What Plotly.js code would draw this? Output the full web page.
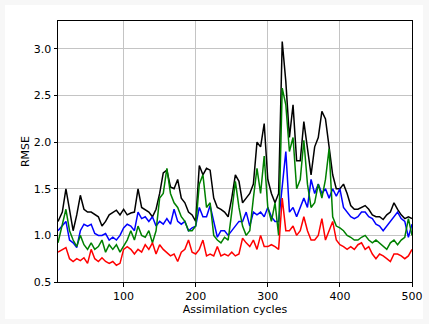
<!DOCTYPE html>
<html><head><meta charset="utf-8">
<script src="https://cdn.plot.ly/plotly-3.0.1.min.js"></script>
<style>
html,body{margin:0;padding:0;background:#f7f7f7;width:429px;height:324px;overflow:hidden;}
#chart{position:absolute;left:5px;top:5px;width:418px;height:314px;}
</style></head>
<body><div id="chart"></div>
<script>
const cycles = [9,15,20,25,30,35,40,45,50,55,60,65,70,75,80,85,90,95,100,105,110,115,120,125,130,135,140,145,150,155,160,165,170,175,180,185,190,195,200,205,210,215,220,225,230,235,240,245,250,255,260,265,270,275,280,285,290,295,300,305,310,315,320,325,330,335,340,345,350,355,360,365,370,375,380,385,390,395,400,405,410,415,420,425,430,435,440,445,450,455,460,465,470,475,480,485,490,495,500];

const blackSeries = [1.15,1.25,1.50,1.25,1.05,1.22,1.43,1.28,1.25,1.25,1.22,1.20,1.10,1.15,1.22,1.25,1.27,1.22,1.28,1.22,1.24,1.25,1.50,1.30,1.27,1.25,1.20,1.28,1.45,1.67,1.70,1.52,1.50,1.60,1.40,1.35,1.25,1.22,1.15,1.75,1.65,1.72,1.70,1.40,1.30,1.28,1.25,1.20,1.40,1.65,1.58,1.35,1.40,1.45,1.55,2.00,1.95,2.20,1.60,1.45,1.35,1.45,3.08,2.65,2.05,2.40,1.80,1.80,2.22,1.95,1.65,1.95,2.05,2.33,2.25,1.95,1.65,1.50,1.50,1.55,1.45,1.32,1.28,1.28,1.30,1.32,1.28,1.22,1.20,1.20,1.17,1.22,1.25,1.35,1.28,1.22,1.18,1.20,1.18];

const greenSeries = [0.92,1.10,1.28,1.05,0.95,0.88,1.00,0.90,0.85,0.92,0.85,0.88,0.95,0.82,0.90,0.85,0.90,0.82,0.88,0.95,1.05,0.95,1.10,1.00,0.98,1.05,0.92,1.05,1.40,1.45,1.72,1.45,1.35,1.30,1.20,1.15,1.05,1.05,1.10,1.55,1.65,1.30,1.35,1.00,0.95,0.92,0.98,0.95,1.25,1.58,1.30,1.10,1.00,1.05,1.40,1.72,1.45,1.85,1.30,1.15,1.35,1.00,2.58,2.40,1.90,2.05,1.50,1.60,2.02,1.55,1.30,1.35,1.55,1.40,1.60,1.93,1.20,1.10,1.08,1.05,1.00,0.98,0.95,0.95,0.98,1.00,0.95,0.92,0.95,0.92,0.88,0.85,0.92,0.95,0.90,0.95,0.98,1.18,1.00];

const blueSeries = [1.05,1.10,1.15,0.95,0.92,0.87,1.05,1.12,1.10,1.12,1.02,1.00,1.00,1.02,0.95,0.98,0.95,1.00,1.08,1.12,1.10,1.05,1.25,1.18,1.20,1.15,1.20,1.10,1.15,1.12,1.18,1.12,1.28,1.15,1.12,1.15,1.05,1.08,1.10,1.30,1.20,1.20,1.32,1.15,0.98,1.05,1.05,1.00,1.05,1.10,1.15,1.15,1.25,1.10,1.25,1.22,1.25,1.20,1.30,1.20,1.15,1.15,1.55,1.90,1.25,1.30,1.20,1.30,1.40,1.30,1.60,1.45,1.55,1.45,1.50,1.40,1.50,1.42,1.50,1.30,1.25,1.20,1.18,1.20,1.25,1.25,1.20,1.18,1.12,1.10,1.05,1.10,1.15,1.20,1.25,1.18,1.15,0.98,1.12];

const redSeries = [0.82,0.85,0.87,0.75,0.72,0.75,0.73,0.76,0.70,0.85,0.75,0.72,0.76,0.72,0.70,0.72,0.68,0.70,0.85,0.88,0.85,0.80,0.85,0.82,0.90,0.85,0.92,0.80,0.90,0.85,0.82,0.78,0.80,0.72,0.82,0.85,0.95,0.82,0.80,0.85,0.95,0.78,0.80,0.78,0.88,0.78,0.80,0.78,0.82,0.78,0.80,0.97,0.92,0.88,0.95,0.85,1.00,0.88,0.88,0.90,0.88,0.85,1.40,1.05,1.05,1.10,1.00,1.05,1.20,1.05,0.95,0.95,1.00,1.18,0.95,1.05,1.15,0.95,0.90,0.88,0.85,0.88,0.85,0.90,0.92,0.85,0.88,0.80,0.75,0.80,0.78,0.75,0.72,0.80,0.80,0.78,0.75,0.78,0.85];

const xTicks = [100,200,300,400,500];
const yTicks = [0.5,1.0,1.5,2.0,2.5,3.0];

const series = [
  {y: blackSeries, color: '#000000'},
  {y: blueSeries, color: '#0000ff'},
  {y: greenSeries, color: '#008000'},
  {y: redSeries, color: '#ff0000'}
];
const traces = series.map(s => ({x: cycles, y: s.y, type: 'scatter', mode: 'lines',
  line: {color: s.color, width: 1.5}, showlegend: false, hoverinfo: 'skip'}));

const font = {family: 'DejaVu Sans', size: 11, color: '#000'};
const axisCommon = {showline: true, linecolor: '#000', linewidth: 1, mirror: true,
  ticks: 'outside', ticklen: 3.5, tickwidth: 1, tickcolor: '#000',
  showgrid: true, gridcolor: '#c4c4c4', gridwidth: 1, zeroline: false,
  tickfont: font};

const layout = {
  width: 418, height: 314,
  margin: {l: 53, r: 11, t: 16, b: 37},
  paper_bgcolor: '#ffffff', plot_bgcolor: '#ffffff',
  xaxis: Object.assign({}, axisCommon, {range: [9, 500], tickvals: xTicks, ticktext: xTicks.map(String),
    title: {text: 'Assimilation cycles', font: font, standoff: 2}}),
  yaxis: Object.assign({}, axisCommon, {range: [0.5, 3.3], tickvals: yTicks, ticktext: yTicks.map(v => v.toFixed(1)),
    title: {text: 'RMSE', font: font, standoff: 1}})
};
Plotly.newPlot('chart', traces, layout, {staticPlot: true, displayModeBar: false});
</script></body></html>
